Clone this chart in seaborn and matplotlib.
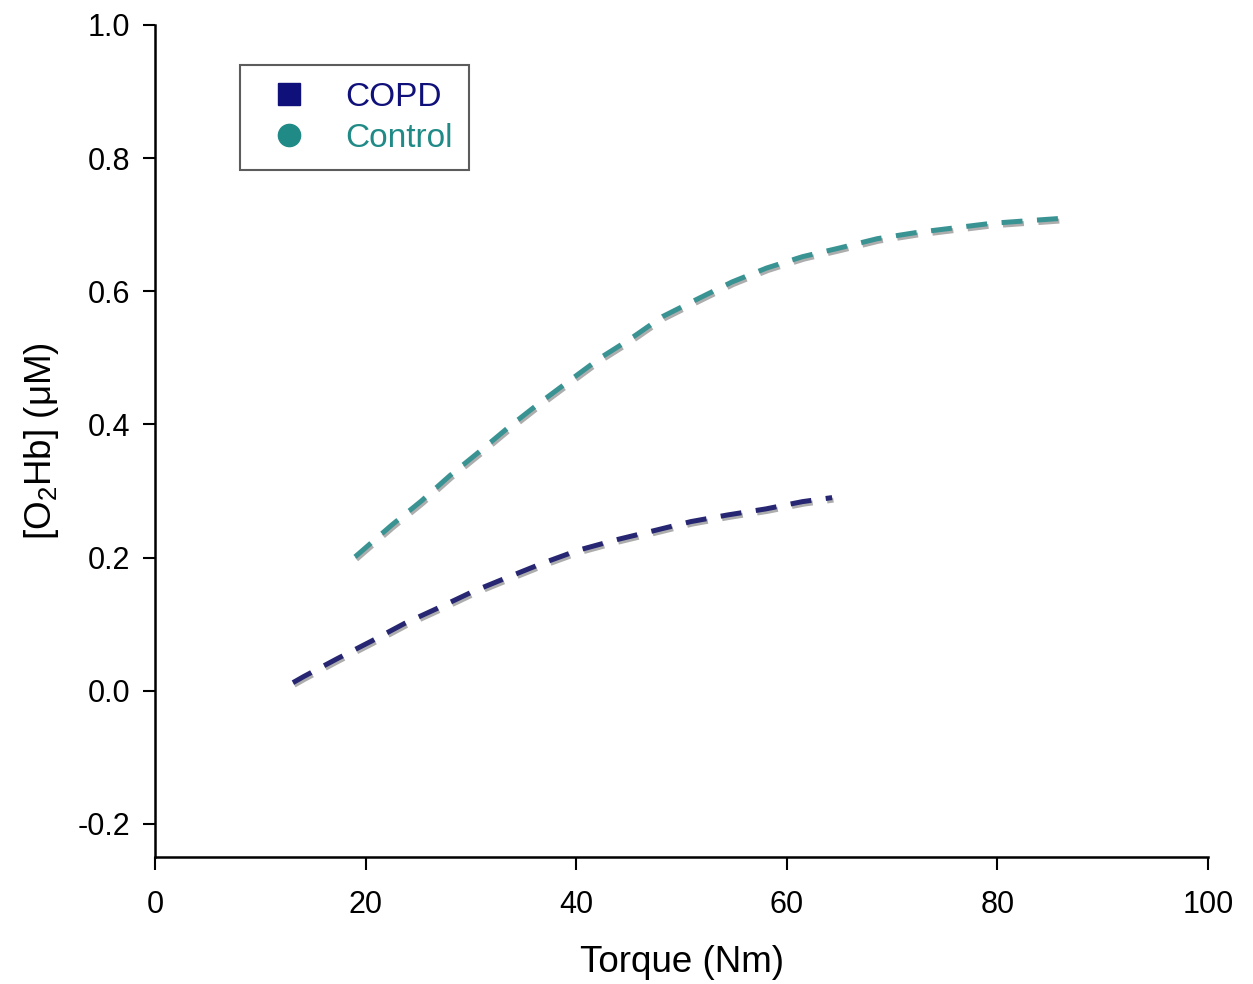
import pandas as pd
import matplotlib.pyplot as plt
import matplotlib.patheffects as pe
from matplotlib.lines import Line2D
import seaborn as sns

# Values
copd_torque = [13.1, 14.1, 17.3, 20.5, 23.7, 27.0, 30.2, 33.6, 36.9, 40.2, 43.9,
               47.3, 50.9, 54.4, 58.0, 61.5, 64.3]
copd_o2hb = [0.012, 0.021, 0.048, 0.074, 0.101, 0.125, 0.149, 0.171, 0.192, 0.211, 0.227,
             0.240, 0.254, 0.264, 0.273, 0.284, 0.290]

control_torque = [19.0, 22.5, 25.3, 28.0, 30.8, 33.6, 36.5, 39.3, 42.3, 45.1, 48.2,
                  51.6, 54.8, 58.1, 61.5, 65.0, 68.6, 72.2, 75.8, 79.4, 82.9, 86.5]
control_o2hb = [0.201, 0.249, 0.285, 0.323, 0.359, 0.396, 0.432, 0.465, 0.500, 0.528, 0.562,
                0.589, 0.614, 0.635, 0.652, 0.665, 0.679, 0.688, 0.695, 0.702, 0.706, 0.710]

groups = ['COPD', 'Control']
line_colors = {'COPD': '#262673', 'Control': '#3a9393'}
legend_colors = {'COPD': '#10107a', 'Control': '#1f8a86'}
legend_markers = {'COPD': 's', 'Control': 'o'}

x_ticks = [0, 20, 40, 60, 80, 100]
y_ticks = [-0.2, 0.0, 0.2, 0.4, 0.6, 0.8, 1.0]


def main():
    df = pd.concat([
        pd.DataFrame({'Torque': copd_torque, 'O2Hb': copd_o2hb, 'Group': 'COPD'}),
        pd.DataFrame({'Torque': control_torque, 'O2Hb': control_o2hb, 'Group': 'Control'}),
    ], ignore_index=True)

    sns.set_style('ticks')
    plt.rcParams['font.family'] = ['Liberation Sans', 'DejaVu Sans']
    plt.rcParams['mathtext.fontset'] = 'custom'
    plt.rcParams['mathtext.rm'] = 'Liberation Sans'
    plt.rcParams['mathtext.it'] = 'Liberation Sans:italic'

    fig = plt.figure(figsize=(12.53, 9.84), dpi=100)
    ax = fig.add_axes([0.1237, 0.129, 0.8404, 0.8456])

    sns.lineplot(data=df, x='Torque', y='O2Hb', hue='Group', palette=line_colors,
                 sort=False, estimator=None, legend=False, ax=ax, linewidth=3.6)

    # dashed lines with a grey drop shadow
    for line in ax.get_lines():
        line.set_dashes((4.2, 2.9))
        line.set_dash_capstyle('butt')
        line.set_path_effects([
            pe.SimpleLineShadow(offset=(1.0, -1.8), shadow_color='#8a8a8a', alpha=0.7),
            pe.Normal(),
        ])

    ax.set_xlim(0, 100)
    ax.set_ylim(-0.25, 1.0)
    ax.set_xticks(x_ticks)
    ax.set_yticks(y_ticks)
    ax.set_yticklabels([f'{v:.1f}' for v in y_ticks])
    ax.tick_params(axis='both', labelsize=22, length=9, width=1.5, direction='out',
                   colors='black')
    ax.tick_params(axis='x', pad=15)
    ax.tick_params(axis='y', pad=9)
    for side in ['left', 'bottom']:
        ax.spines[side].set_linewidth(1.8)
        ax.spines[side].set_color('black')
    sns.despine(ax=ax)

    ax.set_xlabel('Torque (Nm)', fontsize=26.5, labelpad=18, color='black')
    ax.set_ylabel('[O$_2$Hb] (μM)', fontsize=26.5, labelpad=12, color='black')

    handles = [Line2D([0], [0], linestyle='none', marker=legend_markers[g],
                      markersize=16, color=legend_colors[g]) for g in groups]
    leg = ax.legend(handles, groups, loc='upper left', bbox_to_anchor=(0.081, 0.952),
                    borderaxespad=0, fontsize=24, frameon=True, fancybox=False,
                    handletextpad=0.7, handlelength=1.95, borderpad=0.5,
                    labelspacing=0.3)
    leg.get_frame().set_edgecolor('#333333')
    leg.get_frame().set_linewidth(1.5)
    for text, g in zip(leg.get_texts(), groups):
        text.set_color(legend_colors[g])

    fig.savefig('out.png', dpi=100)
    plt.close(fig)


if __name__ == '__main__':
    main()
